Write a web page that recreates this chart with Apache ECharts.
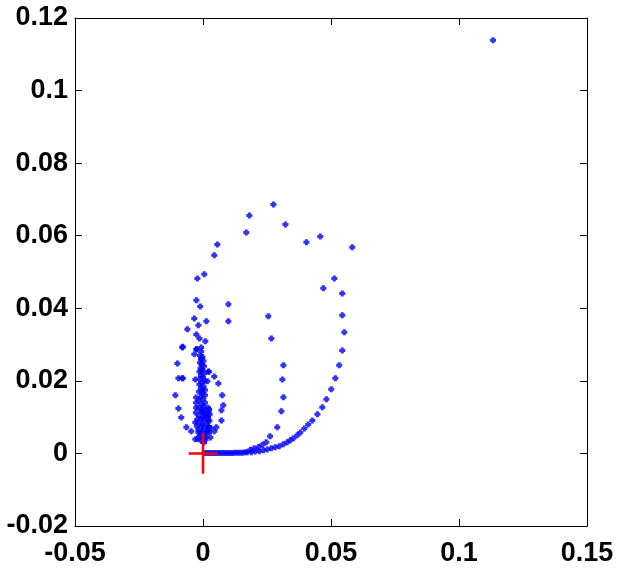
<!DOCTYPE html>
<html>
<head>
<meta charset="utf-8">
<script src="https://cdn.jsdelivr.net/npm/echarts@6/dist/echarts.min.js"></script>
<style>
  html, body { margin: 0; padding: 0; background: #fff; }
  #chart { width: 620px; height: 580px; }
</style>
</head>
<body>
<div id="chart"></div>
<script>
// axis ranges (matlab style box)
const xRange = [-0.05, 0.15]
const xStep = 0.05
const yRange = [-0.02, 0.12]
const yStep = 0.02

// lone point top right
const outlier = [[0.1133, 0.1139]]

// big outer arc + points on top
const outerArc = [
  [0.0275, 0.0686], [0.0181, 0.0656], [0.0322, 0.0631], [0.0169, 0.0609],
  [0.0056, 0.0576], [0.0044, 0.0546], [0.0458, 0.0598], [0.0404, 0.0582],
  [0.0583, 0.0568], [0.0005, 0.0494], [0.0513, 0.0482], [0.0470, 0.0455],
  [0.0544, 0.0441], [0.0099, 0.0411], [0.0099, 0.0364], [0.0544, 0.0381],
  [0.0552, 0.0334], [0.0544, 0.0284], [0.0532, 0.0243], [0.0517, 0.0207],
  [0.0501, 0.0177], [0.0482, 0.0149], [0.0466, 0.0127], [0.0447, 0.0108],
  [0.0427, 0.0091], [0.0411, 0.0080], [0.0396, 0.0069], [0.0380, 0.0058],
  [0.0368, 0.0050], [0.0353, 0.0042], [0.0341, 0.0036], [0.0329, 0.0031],
  [0.0314, 0.0025], [0.0298, 0.0020], [0.0282, 0.0017], [0.0267, 0.0014],
  [0.0251, 0.0011], [0.0236, 0.0009], [0.0220, 0.0006], [0.0204, 0.0005],
  [0.0189, 0.0003], [0.0173, 0.0003]
]

// inner branch of the arc
const innerArc = [
  [0.0255, 0.0378], [0.0267, 0.0317], [0.0314, 0.0243], [0.0310, 0.0204],
  [0.0314, 0.0155], [0.0306, 0.0116], [0.0290, 0.0072], [0.0262, 0.0047],
  [0.0247, 0.0031], [0.0232, 0.0024], [0.0217, 0.0018], [0.0200, 0.0014],
  [0.0185, 0.0010]
]

// flat band along y = 0
const baseline = [
  [0.0005, 0.0001], [0.0015, 0.0001], [0.0025, 0.0001], [0.0035, 0.0001],
  [0.0045, 0.0001], [0.0055, 0.0001], [0.0065, 0.0001], [0.0075, 0.0001],
  [0.0085, 0.0001], [0.0095, 0.0001], [0.0105, 0.0001], [0.0115, 0.0001],
  [0.0125, 0.0002], [0.0135, 0.0002], [0.0145, 0.0002], [0.0155, 0.0002],
  [0.0165, 0.0003]
]

// loop left of zero
const leftLoop = [
  [-0.0022, 0.0482], [-0.0026, 0.0422], [-0.0011, 0.0405], [-0.0034, 0.0372],
  [0.0013, 0.0364], [-0.0018, 0.0353], [-0.0061, 0.0342], [-0.0026, 0.0328],
  [-0.0014, 0.0317], [0.0009, 0.0309], [-0.0081, 0.0292], [-0.0007, 0.0292],
  [-0.0026, 0.0287], [-0.0007, 0.0281], [-0.0034, 0.0273], [-0.0100, 0.0248],
  [0.0021, 0.0226], [0.0044, 0.0212], [-0.0096, 0.0207], [-0.0081, 0.0207],
  [-0.0030, 0.0204], [0.0017, 0.0199], [0.0060, 0.0193], [-0.0108, 0.0160],
  [0.0075, 0.0160], [0.0079, 0.0133], [-0.0096, 0.0124], [0.0072, 0.0119],
  [-0.0085, 0.0099], [0.0072, 0.0091], [-0.0065, 0.0072], [-0.0046, 0.0061],
  [0.0052, 0.0072], [0.0044, 0.0061], [-0.0030, 0.0039], [0.0029, 0.0044],
  [-0.0079, 0.0294], [-0.0025, 0.0287], [0.0023, 0.0225], [-0.0079, 0.0207],
  [-0.0027, 0.0154], [-0.0027, 0.0140], [-0.0027, 0.0126], [-0.0028, 0.0112],
  [0.0024, 0.0121], [0.0026, 0.0108], [0.0011, 0.0045], [-0.0020, 0.0040]
]

// dense column just above the origin
const column = [
  [-0.0012, 0.0270], [-0.0002, 0.0266], [-0.0008, 0.0260], [0.0002, 0.0255],
  [-0.0012, 0.0250], [-0.0004, 0.0245], [0.0004, 0.0240], [-0.0010, 0.0235],
  [-0.0002, 0.0230], [-0.0014, 0.0225], [0.0004, 0.0220], [-0.0008, 0.0215],
  [0.0000, 0.0210], [-0.0014, 0.0205], [0.0006, 0.0200], [-0.0006, 0.0195],
  [-0.0014, 0.0190], [0.0002, 0.0185], [-0.0008, 0.0180], [0.0008, 0.0175],
  [-0.0016, 0.0170], [-0.0002, 0.0165], [0.0008, 0.0160], [-0.0010, 0.0155],
  [0.0000, 0.0150], [-0.0016, 0.0145], [0.0008, 0.0140], [-0.0006, 0.0135],
  [0.0002, 0.0130], [-0.0016, 0.0125], [0.0010, 0.0120], [-0.0006, 0.0115],
  [0.0002, 0.0110], [-0.0016, 0.0105], [0.0012, 0.0100], [-0.0006, 0.0095],
  [0.0004, 0.0090], [-0.0018, 0.0085], [0.0014, 0.0080], [-0.0006, 0.0075],
  [0.0004, 0.0070], [-0.0018, 0.0065], [0.0016, 0.0060], [-0.0006, 0.0055],
  [0.0006, 0.0050], [-0.0014, 0.0047], [0.0000, 0.0042], [0.0010, 0.0038],
  [-0.0006, 0.0034], [0.0004, 0.0030],
  [-0.0006, 0.0262], [-0.0006, 0.0228], [-0.0004, 0.0172], [-0.0004, 0.0120],
  [-0.0002, 0.0098], [-0.0002, 0.0080], [-0.0002, 0.0062], [0.0010, 0.0108],
  [-0.0022, 0.0095], [0.0020, 0.0090], [-0.0024, 0.0075], [0.0022, 0.0072],
  [-0.0018, 0.0058], [0.0024, 0.0058], [0.0030, 0.0070], [-0.0030, 0.0085],
  [0.0020, 0.0126], [0.0022, 0.0114], [0.0020, 0.0101], [0.0025, 0.0090],
  [0.0021, 0.0072], [0.0017, 0.0061]
]

// red + at the origin
const crossH = [[-0.0056, 0], [0.0056, 0]]
const crossV = [[0, -0.0056], [0, 0.0056]]

const chart = echarts.init(document.getElementById('chart'))

const font = { fontFamily: 'Liberation Sans, Arial, sans-serif', fontSize: 27, fontWeight: 'bold', color: '#000' }
const fmt = (v) => String(+v.toFixed(3))
const dotSymbol = 'path://M1.5 0H4.5V1.5H6V4.5H4.5V6H1.5V4.5H0V1.5H1.5Z'

const boxAxis = (pos, range, step, showLabel) => ({
  type: 'value',
  position: pos,
  min: range[0],
  max: range[1],
  interval: step,
  axisLine: { show: true, onZero: false, lineStyle: { color: '#000', width: 1 } },
  axisTick: { show: true, inside: true, length: 7, lineStyle: { color: '#000' } },
  axisLabel: Object.assign({ show: showLabel, formatter: fmt }, font),
  splitLine: { show: false }
})

const blue = (data) => ({
  type: 'scatter',
  data: data,
  symbol: dotSymbol,
  symbolSize: 6,
  itemStyle: { color: '#0000ff' },
  xAxisIndex: 0,
  yAxisIndex: 0,
  z: 2
})

const red = (data) => ({
  type: 'line',
  data: data,
  symbol: 'none',
  lineStyle: { color: '#ff0000', width: 2.5 },
  xAxisIndex: 0,
  yAxisIndex: 0,
  z: 5
})

const xBottom = boxAxis('bottom', xRange, xStep, true)
xBottom.axisLabel.margin = 14
const yLeft = boxAxis('left', yRange, yStep, true)
yLeft.axisLabel.margin = 7

chart.setOption({
  animation: false,
  backgroundColor: '#fff',
  grid: { left: 75, right: 33, top: 18, bottom: 54, containLabel: false },
  xAxis: [xBottom, boxAxis('top', xRange, xStep, false)],
  yAxis: [yLeft, boxAxis('right', yRange, yStep, false)],
  series: [
    blue(outlier),
    blue(outerArc),
    blue(innerArc),
    blue(baseline),
    blue(leftLoop),
    blue(column),
    red(crossH),
    red(crossV)
  ]
})
</script>
</body>
</html>
